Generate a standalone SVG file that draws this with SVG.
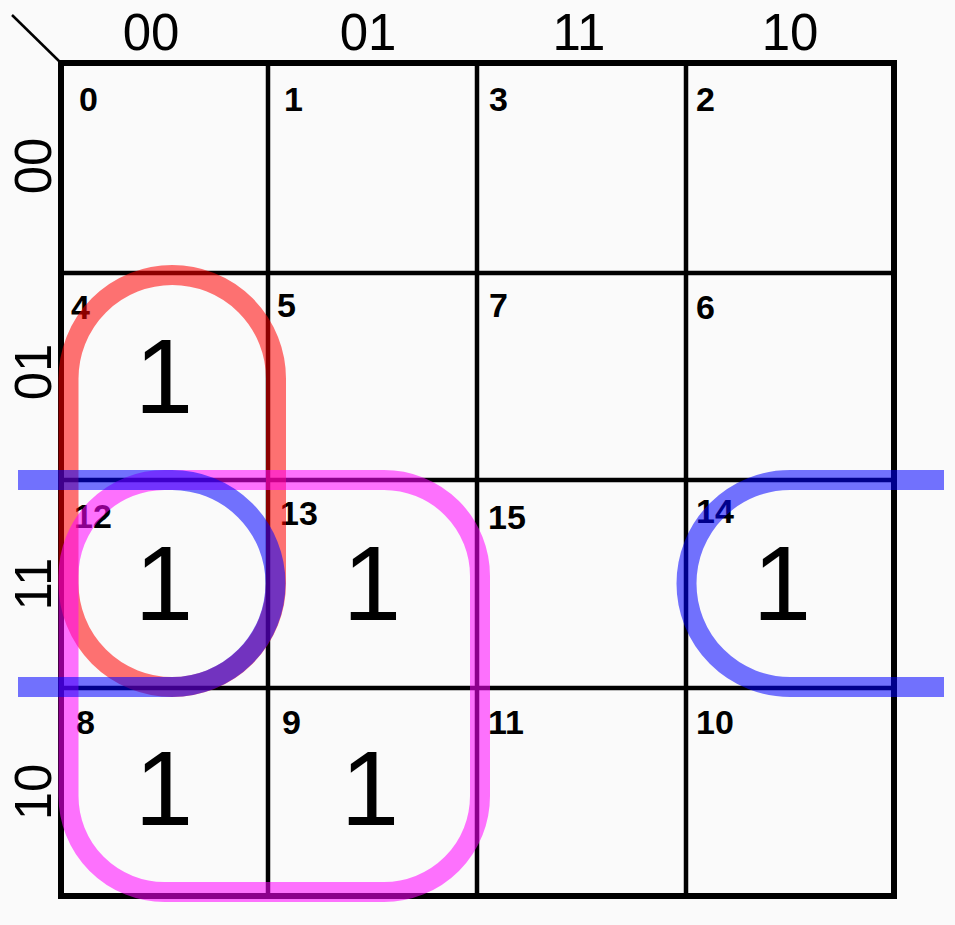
<svg xmlns="http://www.w3.org/2000/svg" width="955" height="925" viewBox="0 0 955 925">
<style>
.hdr{font-family:"Liberation Sans",Arial,sans-serif;font-size:51px;fill:#000;text-anchor:middle}
.num{font-family:"Liberation Sans",Arial,sans-serif;font-size:34px;font-weight:bold;fill:#000}
.one{font-family:"Liberation Sans",Arial,sans-serif;font-size:105px;fill:#000;text-anchor:middle}
.in{stroke:#000;stroke-width:4.5;fill:none}
.loop{fill:none;stroke-width:20;stroke-opacity:0.55}
</style>
<rect width="955" height="925" fill="#fafafa"/>
<g id="grid">
<line x1="12" y1="15" x2="61" y2="63" stroke="#000" stroke-width="2.5"/>
<line class="in" x1="268" y1="63" x2="268" y2="896"/>
<line class="in" x1="477" y1="63" x2="477" y2="896"/>
<line class="in" x1="686" y1="63" x2="686" y2="896"/>
<line class="in" x1="61" y1="273" x2="894" y2="273"/>
<line class="in" x1="61" y1="480" x2="894" y2="480"/>
<line class="in" x1="61" y1="688" x2="894" y2="688"/>
<rect x="61" y="63" width="833" height="833" fill="none" stroke="#000" stroke-width="6"/>
</g>
<g id="headers">
<text class="hdr" x="151" y="50">00</text>
<text class="hdr" x="368" y="50">01</text>
<text class="hdr" x="579" y="50">11</text>
<text class="hdr" x="790" y="50">10</text>
<text class="hdr" transform="translate(51,166) rotate(-90)">00</text>
<text class="hdr" transform="translate(51,372) rotate(-90)">01</text>
<text class="hdr" transform="translate(51,584) rotate(-90)">11</text>
<text class="hdr" transform="translate(51,792) rotate(-90)">10</text>
</g>
<g id="cells">
<g id="c0"><text class="num" x="79" y="111">0</text></g>
<g id="c1"><text class="num" x="284" y="111">1</text></g>
<g id="c3"><text class="num" x="489" y="111">3</text></g>
<g id="c2"><text class="num" x="696" y="111">2</text></g>
<g id="c4"><text class="num" x="71" y="319">4</text><text class="one" x="164" y="413">1</text></g>
<g id="c5"><text class="num" x="277" y="317">5</text></g>
<g id="c7"><text class="num" x="489" y="317">7</text></g>
<g id="c6"><text class="num" x="696" y="319">6</text></g>
<g id="c12"><text class="num" x="74" y="528">12</text><text class="one" x="164" y="620">1</text></g>
<g id="c13"><text class="num" x="280" y="525">13</text><text class="one" x="372" y="620">1</text></g>
<g id="c15"><text class="num" x="488" y="529">15</text></g>
<g id="c14"><text class="num" x="696" y="523">14</text><text class="one" x="782" y="620">1</text></g>
<g id="c8"><text class="num" x="76" y="734">8</text><text class="one" x="164" y="825">1</text></g>
<g id="c9"><text class="num" x="282" y="734">9</text><text class="one" x="370" y="825">1</text></g>
<g id="c11"><text class="num" x="488" y="734">11</text></g>
<g id="c10"><text class="num" x="696" y="734">10</text></g>
</g>
<g id="loops">
<rect class="loop" stroke="#ff0000" x="68.5" y="275" width="207.5" height="412" rx="103.75" ry="103.75"/>
<rect class="loop" stroke="#ff00ff" x="68.5" y="480" width="411.5" height="412" rx="96" ry="96"/>
<path class="loop" stroke="#0000ff" d="M18,480 H172 A103.5,103.5 0 0 1 172,687 H18"/>
<path class="loop" stroke="#0000ff" d="M944,480 H790 A103.5,103.5 0 0 0 790,687 H944"/>
</g>
</svg>
